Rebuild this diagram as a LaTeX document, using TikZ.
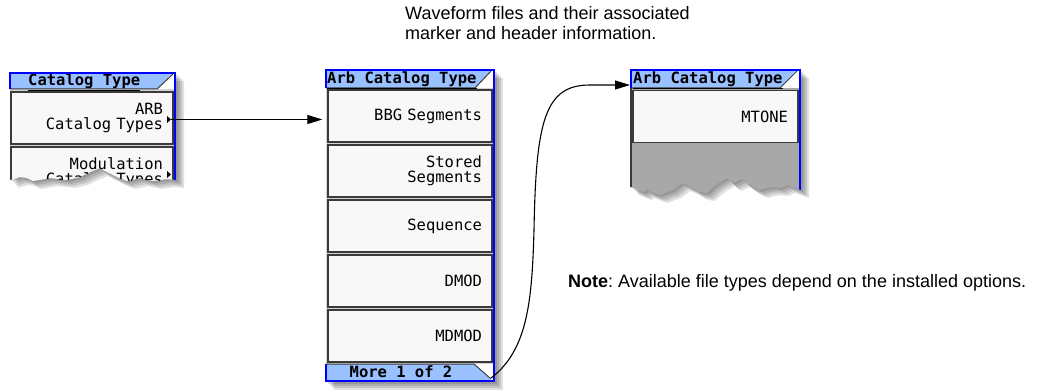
\documentclass[tikz,border=0pt]{standalone}
\usepackage{fontspec}
\setmainfont{Liberation Sans}
\newfontfamily\menufont{DejaVu Sans Mono}
\usetikzlibrary{arrows.meta,positioning}
\definecolor{kblue}{HTML}{0000FF}
\definecolor{khead}{HTML}{99C0FF}
\definecolor{kkey}{HTML}{F8F8F8}
\definecolor{kedge}{HTML}{3A3A3A}
\definecolor{kbody}{HTML}{D4D4D4}
\definecolor{ktorn}{HTML}{A8A8A8}
\tikzset{
  softkey/.style={draw=kedge,fill=kkey,line width=1.4pt,minimum height=52pt,inner xsep=10pt,inner ysep=0pt,text width=144pt,align=right,font=\menufont\fontsize{15.5}{15}\selectfont},
  head/.style={font=\menufont\bfseries\fontsize{15.5}{15}\selectfont,inner sep=0pt,anchor=base west},
  frame/.style={draw=kblue,line width=2pt},
  shade/.style={fill=black,opacity=0.12},
  rim/.style={draw=kedge,line width=1pt},
  arr/.style={-{Triangle[length=15pt,width=9pt]},line width=1.1pt},
  txt/.style={font=\fontsize{18}{20}\selectfont,align=left,inner sep=0pt},
}
% torn outlines of the two cut menus
\def\outL{(10,73) -- (176,73) -- (176,180) -- (167,179) -- (153,181) -- (140,178) -- (127,181) -- (117,177) -- (107,172) -- (100,168) -- (90,172) -- (80,177) -- (67,180) -- (50,178) -- (33,181) -- (27,178) -- (20,177) -- (10,180) -- cycle}
\def\clipL{(0,0) -- (190,0) -- (190,180) -- (176,180) -- (167,179) -- (153,181) -- (140,178) -- (127,181) -- (117,177) -- (107,172) -- (100,168) -- (90,172) -- (80,177) -- (67,180) -- (50,178) -- (33,181) -- (27,178) -- (20,177) -- (10,180) -- (0,180) -- cycle}
\def\outR{(631,70) -- (801,70) -- (801,190) -- (793,187) -- (787,185) -- (780,188) -- (773,187) -- (767,188) -- (760,190) -- (753,187) -- (747,183) -- (742,179) -- (733,183) -- (727,178) -- (720,182) -- (713,187) -- (707,193) -- (700,192) -- (693,188) -- (687,185) -- (682,183) -- (673,190) -- (667,192) -- (660,195) -- (653,193) -- (647,190) -- (643,192) -- (631,187) -- cycle}
\def\clipR{(620,0) -- (815,0) -- (815,190) -- (801,190) -- (793,187) -- (787,185) -- (780,188) -- (773,187) -- (767,188) -- (760,190) -- (753,187) -- (747,183) -- (742,179) -- (733,183) -- (727,178) -- (720,182) -- (713,187) -- (707,193) -- (700,192) -- (693,188) -- (687,185) -- (682,183) -- (673,190) -- (667,192) -- (660,195) -- (653,193) -- (647,190) -- (643,192) -- (631,187) -- (620,187) -- cycle}
\frenchspacing
\begin{document}
\begin{tikzpicture}[x=1pt,y=-1pt]
  \useasboundingbox (0,0) rectangle (1047,390);
  % shadows
  \foreach \s in {2,4,6,8} {
    \fill[shade,shift={(\s,\s)}] \outL;
    \fill[shade,shift={(\s,\s)}] (326,70) rectangle (495,382);
    \fill[shade,shift={(\s,\s)}] \outR;
  }
  % left menu
  \begin{scope}
    \clip \clipL;
    \fill[kbody] (10,89) rectangle (175,200);
    \fill[khead] (10,73) -- (173,73) -- (157,89) -- (10,89) -- cycle;
    \fill[white] (173,73) -- (175,73) -- (175,89) -- (157,89) -- cycle;
    \draw[rim] (10,89) -- (157,89) -- (173,74);
    \node[head] (cattype) at (28,85.5) {\underline{Catalog Type}};
    \node[softkey,text width=142pt] (arbkey) at (92,118) {ARB\\Catalog Types};
    \node[softkey,text width=142pt] (modkey) at (92,173) {Modulation\\Catalog Types};
    \fill (167,116) -- (171,119.5) -- (167,123) -- cycle;
    \fill (167,171) -- (171,174.5) -- (167,178) -- cycle;
    \draw[frame] (10,89) -- (10,73) -- (175,73) -- (175,200);
  \end{scope}
  % middle menu
  \fill[kbody] (326,88) rectangle (494,381);
  \fill[khead] (326,70) -- (491,70) -- (475,88) -- (326,88) -- cycle;
  \fill[white] (491,70) -- (494,70) -- (494,88) -- (475,88) -- cycle;
  \draw[rim] (326,88) -- (475,88) -- (491,71);
  \node[head] (arbtype) at (327,83.5) {\underline{Arb Catalog Type}};
  \foreach \name/\label [count=\i from 0] in {bbg/BBG Segments,stored/{Stored\\Segments},sequence/Sequence,dmod/DMOD,mdmod/MDMOD} {
    \node[softkey] (\name) at (410,116+55*\i) {\label};
  }
  \fill[khead] (326,364) -- (474,364) -- (491,380) -- (326,380) -- cycle;
  \fill[white] (474,364) -- (494,364) -- (494,380) -- (491,380) -- cycle;
  \draw[rim] (326,364) -- (474,364) -- (491,379);
  \node[head,anchor=base] (more) at (401,377) {More 1 of 2};
  \draw[frame] (326,88) -- (326,70) -- (494,70) -- (494,381) -- (326,381) -- (326,364);
  \coordinate (morecorner) at (491,378);
  % right menu
  \begin{scope}
    \clip \clipR;
    \fill[ktorn] (631,88) rectangle (800,200);
    \fill[khead] (631,70) -- (797,70) -- (780,88) -- (631,88) -- cycle;
    \fill[white] (797,70) -- (800,70) -- (800,88) -- (780,88) -- cycle;
    \draw[rim] (631,88) -- (780,88) -- (797,71);
    \node[head] (mtonetype) at (633,83.5) {\underline{Arb Catalog Type}};
    \node[softkey,text width=145pt] (mtone) at (715.5,116.5) {MTONE};
    \draw[rim,line width=1.4pt] (631,88) -- (631,200);
    \draw[frame] (631,88) -- (631,70) -- (800,70) -- (800,200);
  \end{scope}
  \coordinate (arbtip) at (171,119.5);
  \coordinate (mtoneend) at (630,85);
  % connectors
  \draw[arr,shorten >=5pt] (arbtip) -- (arbtip -| bbg.west);
  \draw[arr] (morecorner) .. controls (528,350) and (532,300) .. (534,230) .. controls (536,120) and (545,85) .. (590,85) -- (mtoneend);
  % texts
  \node[txt,anchor=north west] (caption) at (405,6) {Waveform files and their associated\\marker and header information.};
  \node[txt,anchor=west] (note) at (568,283) {\textbf{Note}: Available file types depend on the installed options.};
\end{tikzpicture}
\end{document}
